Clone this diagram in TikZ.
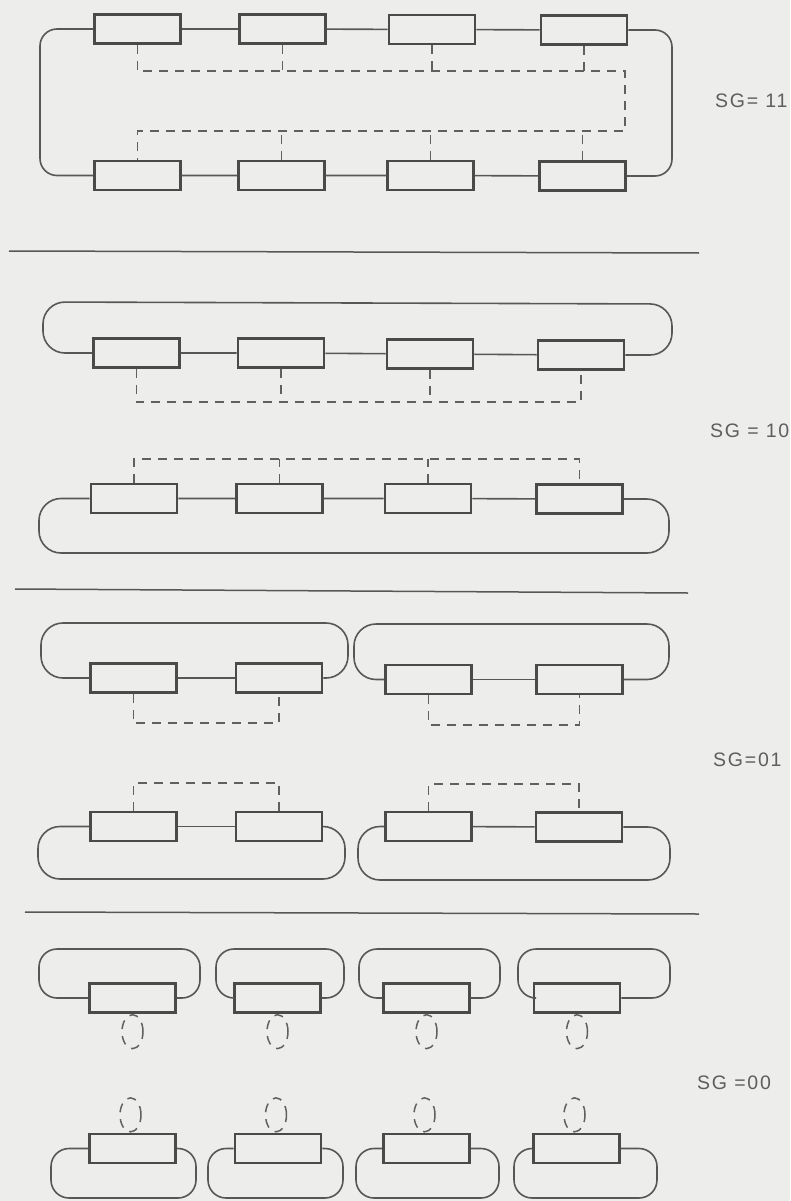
\documentclass[tikz,border=0pt]{standalone}
\usepackage{fontspec}
\usetikzlibrary{positioning,shapes.geometric}
\newfontfamily\sgfont{Liberation Sans}[LetterSpace=9]
\definecolor{paper}{HTML}{EDEDEB}
\definecolor{boxink}{HTML}{4A4A4A}
\definecolor{wireink}{HTML}{575757}
\definecolor{dashink}{HTML}{606060}
\definecolor{labelink}{HTML}{5E5E5E}
\tikzset{
  cell/.style={draw=boxink,line width=2.8pt,
               minimum width=86pt,minimum height=29pt,inner sep=0pt},
  wire/.style={draw=wireink,line width=1.6pt},
  loopwire/.style={wire,rounded corners=22pt},
  bus/.style={draw=dashink,line width=1.5pt,dash pattern=on 9pt off 7pt},
  ring/.style={bus,ellipse,minimum width=21pt,minimum height=34pt,inner sep=0pt},
  sepline/.style={draw=wireink,line width=1.5pt},
  sglabel/.style={text=labelink,font=\sgfont\fontsize{19.5}{22}\selectfont,
                  anchor=west,inner sep=0pt}
}

\begin{document}
\begin{tikzpicture}[x=1pt,y=-1pt]
  \fill[paper] (0,0) rectangle (790,1201);
  \useasboundingbox (0,0) rectangle (790,1201);

  % SG = 11
  \node[cell] (t1) at (137.5,29) {};
  \node[cell] (t2) at (282.5,29) {};
  \node[cell] (t3) at (432,29.5) {};
  \node[cell] (t4) at (584,30) {};
  \node[cell] (d1) at (137.5,175.5) {};
  \node[cell] (d2) at (281.5,175.5) {};
  \node[cell] (d3) at (430.5,175.5) {};
  \node[cell] (d4) at (582.5,176) {};
  \coordinate (lft) at (40,0);
  \coordinate (rgt) at (672,0);
  \coordinate (ja) at (625,71);
  \coordinate (jb) at (625,131);
  \draw[wire] (t1) -- (t2) -- (t3) -- (t4);
  \draw[wire] (d1) -- (d2) -- (d3) -- (d4);
  \draw[loopwire,rounded corners=17pt] (t1.west) -- (t1.west -| lft) -- (d1.west -| lft) -- (d1.west);
  \draw[loopwire,rounded corners=17pt] (t4.east) -- (t4.east -| rgt) -- (d4.east -| rgt) -- (d4.east);
  \draw[bus] (t1.south) |- (ja) -- (jb) -| (d1.north);
  \foreach \i in {2,3,4}{
    \draw[bus] (t\i.south) -- (t\i.south |- ja);
    \draw[bus] (d\i.north) -- (d\i.north |- jb);
  }
  \node[sglabel] (sg11) at (715,101) {SG= 11};

  \draw[sepline] (9,251) -- (699,253);

  % SG = 10
  \node[cell] (p1) at (136.5,353) {};
  \node[cell] (p2) at (281,353) {};
  \node[cell] (p3) at (430,354) {};
  \node[cell] (p4) at (581,355) {};
  \node[cell] (q1) at (134,498.5) {};
  \node[cell] (q2) at (279.5,498.5) {};
  \node[cell] (q3) at (428,498.5) {};
  \node[cell] (q4) at (579.5,499) {};
  \coordinate (k1) at (43,302);
  \coordinate (k2) at (672,304);
  \coordinate (k3) at (39,553);
  \coordinate (k4) at (669,553);
  \coordinate (pb) at (0,402);
  \coordinate (qb) at (0,459);
  \draw[wire] (p1) -- (p2) -- (p3) -- (p4);
  \draw[wire] (q1) -- (q2) -- (q3) -- (q4);
  \draw[loopwire] (p1.west) -| (k1) -- (k2) |- (p4.east);
  \draw[loopwire] (q1.west) -| (k3) -- (k4) |- (q4.east);
  \draw[bus] (p1.south) |- (p4.south |- pb) -- (p4.south);
  \draw[bus] (q1.north) |- (q4.north |- qb) -- (q4.north);
  \foreach \i in {2,3}{
    \draw[bus] (p\i.south) -- (p\i.south |- pb);
    \draw[bus] (q\i.north) -- (q\i.north |- qb);
  }
  \node[sglabel] (sg10) at (710,431) {SG = 10};

  \draw[sepline] (15,589) -- (688,593);

  % SG = 01
  \node[cell] (a1) at (133.5,678) {};
  \node[cell] (a2) at (279,678) {};
  \node[cell] (a3) at (428.5,679.5) {};
  \node[cell] (a4) at (579.5,679.5) {};
  \node[cell] (c1) at (133.5,826.5) {};
  \node[cell] (c2) at (279,826.5) {};
  \node[cell] (c3) at (428.5,826.5) {};
  \node[cell] (c4) at (579,827) {};
  \draw[wire] (a1) -- (a2);
  \draw[wire] (a3) -- (a4);
  \draw[wire] (c1) -- (c2);
  \draw[wire] (c3) -- (c4);
  \draw[loopwire] (a1.west) -| (41,623) -- (348,623) |- (a2.east);
  \draw[loopwire] (a3.west) -| (354,624) -- (669,624) |- (a4.east);
  \draw[loopwire] (c1.west) -| (38,879) -- (345,879) |- (c2.east);
  \draw[loopwire] (c3.west) -| (358,880) -- (670,880) |- (c4.east);
  \draw[bus] (a1.south) |- (a2.south |- 0,723) -- (a2.south);
  \draw[bus] (a3.south) |- (a4.south |- 0,725) -- (a4.south);
  \draw[bus] (c1.north) |- (c2.north |- 0,783) -- (c2.north);
  \draw[bus] (c3.north) |- (c4.north |- 0,784) -- (c4.north);
  \node[sglabel] (sg01) at (713,760) {SG=01};

  \draw[sepline] (25,912) -- (699,914);

  % SG = 00
  \foreach \i/\bx/\l/\r in {1/132.5/39/200, 2/277.5/216/344, 3/426.5/359/500, 4/577/518/670}{
    \node[cell] (u\i) at (\bx,998) {};
    \draw[loopwire,rounded corners=18pt] (u\i.west) -| (\l,949) -- (\r,949) |- (u\i.east);
    \node[ring,below=0pt of u\i] (ru\i) {};
  }
  \foreach \i/\bx/\l/\r in {1/132.5/51/196, 2/278/208/343, 3/426.5/356/499, 4/576.5/514/657}{
    \node[cell] (l\i) at (\bx,1148.5) {};
    \draw[loopwire,rounded corners=18pt] (l\i.west) -| (\l,1198) -- (\r,1198) |- (l\i.east);
    \node[ring,above=0pt of l\i,xshift=-2pt] (rl\i) {};
  }
  \node[sglabel] (sg00) at (697,1083) {SG =00};
\end{tikzpicture}
\end{document}
